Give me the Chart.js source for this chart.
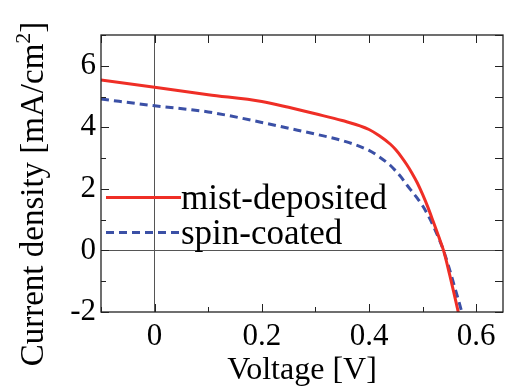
<!DOCTYPE html>
<html>
<head>
<meta charset="utf-8">
<script src="https://cdn.jsdelivr.net/npm/chart.js@4.4.1/dist/chart.umd.min.js"></script>
<style>
  html, body { margin: 0; padding: 0; background: #fff; }
  canvas { display: block; }
</style>
</head>
<body>
<canvas id="myChart" width="505" height="388"></canvas>
<script>
// J-V curves
const voltageMist = [-0.1, 0, 0.1, 0.2, 0.25, 0.3, 0.35, 0.4, 0.42, 0.44, 0.45, 0.46, 0.47, 0.48, 0.49, 0.5, 0.51, 0.52, 0.53, 0.539, 0.55, 0.56, 0.5665, 0.575];
const currentMist = [5.54, 5.30, 5.06, 4.84, 4.65, 4.44, 4.22, 3.93, 3.72, 3.45, 3.27, 3.05, 2.80, 2.52, 2.20, 1.82, 1.40, 0.93, 0.45, 0, -0.75, -1.5, -2, -2.7];

const voltageSpin = [-0.1, 0, 0.1, 0.2, 0.25, 0.3, 0.35, 0.4, 0.42, 0.44, 0.45, 0.46, 0.47, 0.48, 0.49, 0.5, 0.51, 0.52, 0.53, 0.539, 0.55, 0.56, 0.573, 0.58];
const currentSpin = [4.92, 4.70, 4.50, 4.16, 3.97, 3.78, 3.57, 3.25, 3.03, 2.76, 2.58, 2.38, 2.14, 1.92, 1.70, 1.45, 1.15, 0.80, 0.40, 0, -0.6, -1.2, -2, -2.5];

const seriesNames = ['mist-deposited', 'spin-coated'];
const xTickValues = [-0.1, 0, 0.1, 0.2, 0.3, 0.4, 0.5, 0.6];
const yTickValues = [-2, -1, 0, 1, 2, 3, 4, 5, 6, 7];
const xLabelsShown = [0, 0.2, 0.4, 0.6];
const yLabelsShown = [-2, 0, 2, 4, 6];

const serif = "'Liberation Serif', 'Times New Roman', serif";
const axisColor = '#222';

function toPoints(xs, ys) {
    return xs.map((x, i) => ({ x: x, y: ys[i] }));
}

// frame box + inward ticks on all four sides
const frameTicks = {
    id: 'frameTicks',
    afterDatasetsDraw(chart) {
        const ctx = chart.ctx;
        const a = chart.chartArea;
        const xs = chart.scales.x;
        const ys = chart.scales.y;
        ctx.save();
        ctx.strokeStyle = axisColor;
        ctx.lineWidth = 1.3;
        ctx.strokeRect(a.left, a.top, a.right - a.left, a.bottom - a.top);
        ctx.lineWidth = 1;
        xs.ticks.forEach(t => {
            const px = Math.round(xs.getPixelForValue(t.value)) + 0.5;
            const major = xLabelsShown.some(v => Math.abs(v - t.value) < 1e-6);
            ctx.beginPath();
            ctx.moveTo(px, a.bottom); ctx.lineTo(px, a.bottom - (major ? 8 : 5));
            ctx.moveTo(px, a.top); ctx.lineTo(px, a.top + 8);
            ctx.stroke();
        });
        ys.ticks.forEach(t => {
            const py = Math.round(ys.getPixelForValue(t.value)) + 0.5;
            const major = yLabelsShown.includes(t.value);
            ctx.beginPath();
            ctx.moveTo(a.left, py); ctx.lineTo(a.left + (major ? 8 : 5), py);
            ctx.moveTo(a.right, py); ctx.lineTo(a.right - 8, py);
            ctx.stroke();
        });
        ctx.restore();
    }
};

// legend inside the plot + rotated y title with superscript
const extraText = {
    id: 'extraText',
    afterDraw(chart) {
        const ctx = chart.ctx;
        const rows = [197, 232];
        ctx.save();
        chart.data.datasets.forEach((ds, i) => {
            const y = rows[i] + 0.5;
            ctx.strokeStyle = ds.borderColor;
            ctx.lineWidth = ds.borderWidth;
            ctx.setLineDash(ds.borderDash || []);
            ctx.beginPath();
            ctx.moveTo(106, y);
            ctx.lineTo(181, y);
            ctx.stroke();
            ctx.setLineDash([]);
            ctx.fillStyle = '#000';
            ctx.font = '35px ' + serif;
            ctx.textBaseline = 'alphabetic';
            ctx.textAlign = 'left';
            ctx.fillText(ds.label, 181, rows[i] + 12);
        });
        ctx.restore();

        // y title
        const main = 'Current density [mA/cm';
        const sup = '2';
        const end = ']';
        ctx.save();
        ctx.translate(43, 194);
        ctx.rotate(-Math.PI / 2);
        ctx.fillStyle = '#000';
        ctx.textBaseline = 'alphabetic';
        ctx.textAlign = 'left';
        ctx.font = '33px ' + serif;
        const w1 = ctx.measureText(main).width;
        const w3 = ctx.measureText(end).width;
        ctx.font = '22px ' + serif;
        const w2 = ctx.measureText(sup).width;
        let x0 = -(w1 + w2 + w3) / 2;
        ctx.font = '33px ' + serif;
        ctx.fillText(main, x0, 0);
        ctx.font = '22px ' + serif;
        ctx.fillText(sup, x0 + w1, -13);
        ctx.font = '33px ' + serif;
        ctx.fillText(end, x0 + w1 + w2, 0);
        ctx.restore();
    }
};

const ctx = document.getElementById('myChart').getContext('2d');
const myChart = new Chart(ctx, {
    type: 'line',
    data: {
        datasets: [{
            label: seriesNames[0],
            data: toPoints(voltageMist, currentMist),
            borderColor: '#ef2e26',
            borderWidth: 3,
            pointRadius: 0,
            cubicInterpolationMode: 'monotone'
        }, {
            label: seriesNames[1],
            data: toPoints(voltageSpin, currentSpin),
            borderColor: '#3b50a6',
            borderWidth: 3,
            borderDash: [8, 5],
            pointRadius: 0,
            cubicInterpolationMode: 'monotone'
        }]
    },
    options: {
        responsive: false,
        animation: false,
        devicePixelRatio: 1,
        layout: { padding: { top: 35, right: 2, left: 0, bottom: 0 } },
        plugins: {
            legend: { display: false },
            tooltip: { enabled: false }
        },
        scales: {
            x: {
                type: 'linear',
                min: -0.1,
                max: 0.65,
                afterBuildTicks: s => { s.ticks = xTickValues.map(v => ({ value: v })); },
                afterFit: s => { s.height = 76; },
                border: { display: false },
                grid: {
                    drawTicks: false,
                    color: c => (c.tick && Math.abs(c.tick.value) < 1e-9) ? '#555' : 'rgba(0,0,0,0)',
                    lineWidth: 1
                },
                ticks: {
                    padding: 6,
                    color: '#000',
                    font: { family: serif, size: 31 },
                    maxRotation: 0,
                    autoSkip: false,
                    callback: v => {
                        const hit = xLabelsShown.find(s => Math.abs(s - v) < 1e-6);
                        if (hit === undefined) return '';
                        return hit === 0 ? '0' : hit.toFixed(1);
                    }
                },
                title: {
                    display: true,
                    text: 'Voltage [V]',
                    color: '#000',
                    font: { family: serif, size: 32 },
                    padding: { top: 0, bottom: -2 }
                }
            },
            y: {
                min: -2,
                max: 7,
                afterBuildTicks: s => { s.ticks = yTickValues.map(v => ({ value: v })); },
                afterFit: s => { s.width = 101; },
                border: { display: false },
                grid: {
                    drawTicks: false,
                    color: c => (c.tick && c.tick.value === 0) ? '#555' : 'rgba(0,0,0,0)',
                    lineWidth: 1
                },
                ticks: {
                    padding: 5,
                    color: '#000',
                    font: { family: serif, size: 31 },
                    autoSkip: false,
                    callback: v => yLabelsShown.includes(v) ? String(v) : ''
                }
            }
        }
    },
    plugins: [frameTicks, extraText]
});
</script>
</body>
</html>
